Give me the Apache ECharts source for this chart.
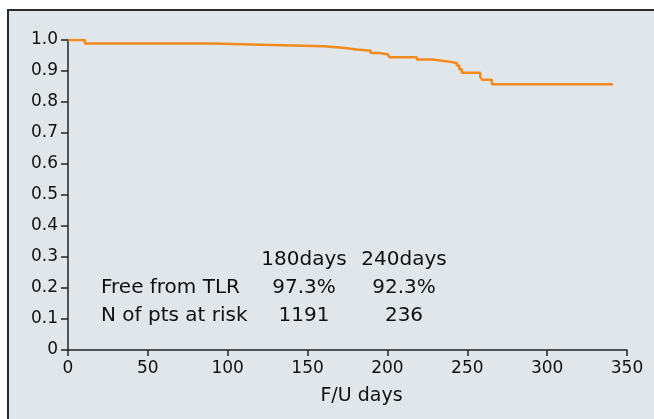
<!DOCTYPE html>
<html><head><meta charset="utf-8">
<script src="https://cdn.jsdelivr.net/npm/echarts@6/dist/echarts.min.js"></script>
<style>html,body{margin:0;padding:0;background:#fff}#c{width:654px;height:419px}</style>
</head><body><div id="c"></div>
<script>
// Kaplan-Meier step data (F/U days, survival free from TLR)
var days = [0, 10.6, 90.4, 121.3, 160, 173.6, 180.8, 189.6, 194.6, 200.2, 201.3, 218.4, 228.4, 237.6, 243.5, 245, 246.6, 258.1, 259.2, 265.4, 341.2];
var survival = [1.0, 0.989, 0.985, 0.980, 0.974, 0.969, 0.965, 0.958, 0.954, 0.949, 0.944, 0.937, 0.931, 0.926, 0.918, 0.906, 0.894, 0.881, 0.872, 0.857, 0.857];
var xTicks = [0, 50, 100, 150, 200, 250, 300, 350];
var yTickLabels = ['0', '0.1', '0.2', '0.3', '0.4', '0.5', '0.6', '0.7', '0.8', '0.9', '1.0'];
var tableHeader = ['180days', '240days'];
var tableRows = ['Free from TLR', 'N of pts at risk'];
var freeFromTLR = ['97.3%', '92.3%'];
var ptsAtRisk = ['1191', '236'];

var FONT = 'DejaVu Sans';
var chart = echarts.init(document.getElementById('c'));
var pts = days.map(function (d, i) { return [d, survival[i]]; });

var colX = [304, 404];
var rowY = [260, 288, 316];
var g = [
  { type: 'rect', z: -10, shape: { x: 8, y: 10, width: 660, height: 430 },
    style: { fill: '#e1e6ea', stroke: '#2a2a2a', lineWidth: 2 } }
];
tableHeader.forEach(function (t, i) {
  g.push({ type: 'text', x: colX[i], y: rowY[0], style: { text: t, font: '20px "' + FONT + '"', fill: '#111', textAlign: 'center', textVerticalAlign: 'middle' } });
});
tableRows.forEach(function (t, i) {
  g.push({ type: 'text', x: 101, y: rowY[i + 1], style: { text: t, font: '20px "' + FONT + '"', fill: '#111', textAlign: 'left', textVerticalAlign: 'middle' } });
});
freeFromTLR.forEach(function (t, i) {
  g.push({ type: 'text', x: colX[i], y: rowY[1], style: { text: t, font: '20px "' + FONT + '"', fill: '#111', textAlign: 'center', textVerticalAlign: 'middle' } });
});
ptsAtRisk.forEach(function (t, i) {
  g.push({ type: 'text', x: colX[i], y: rowY[2], style: { text: t, font: '20px "' + FONT + '"', fill: '#111', textAlign: 'center', textVerticalAlign: 'middle' } });
});

chart.setOption({
  animation: false,
  backgroundColor: '#ffffff',
  graphic: g,
  grid: { left: 68, right: 27, top: 40, bottom: 69, containLabel: false },
  xAxis: {
    type: 'value', min: 0, max: 350, interval: 50,
    name: 'F/U days', nameLocation: 'middle', nameGap: 37,
    nameTextStyle: { fontFamily: FONT, fontSize: 19, color: '#111', padding: [0, 0, 0, 28] },
    axisLine: { show: true, onZero: false, lineStyle: { color: '#222', width: 1.5 } },
    axisTick: { show: true, length: 6, lineStyle: { color: '#222', width: 1.5 } },
    axisLabel: { fontFamily: FONT, fontSize: 17, color: '#111', margin: 10 },
    splitLine: { show: false }
  },
  yAxis: {
    type: 'value', min: 0, max: 1, interval: 0.1,
    axisLine: { show: true, lineStyle: { color: '#222', width: 1.5 } },
    axisTick: { show: true, length: 7, lineStyle: { color: '#222', width: 1.5 } },
    axisLabel: { fontFamily: FONT, fontSize: 17, color: '#111', margin: 10,
      formatter: function (v) { return yTickLabels[Math.round(v * 10)]; } },
    splitLine: { show: false }
  },
  series: [{
    type: 'line', step: 'end', data: pts, symbol: 'none',
    lineStyle: { color: '#ee8a1e', width: 2.5 }
  }]
});
</script></body></html>
